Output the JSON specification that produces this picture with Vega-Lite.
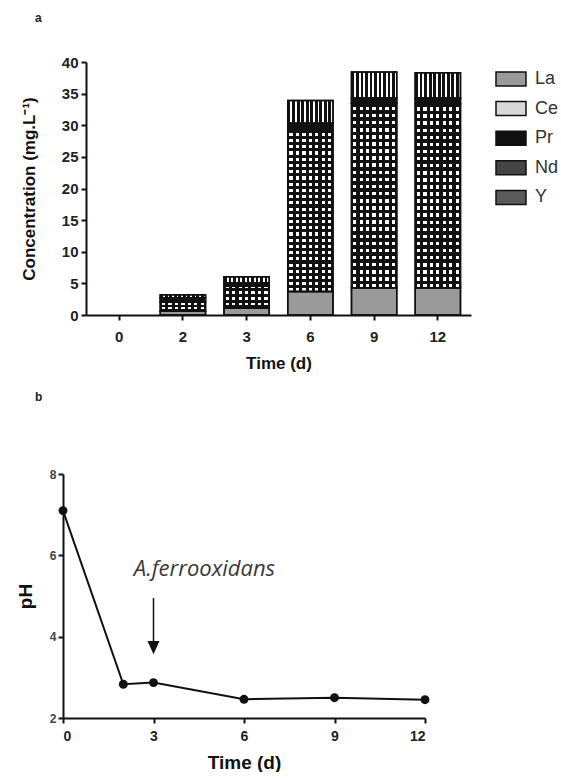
{
  "$schema": "https://vega.github.io/schema/vega-lite/v6.json",
  "padding": {"left": 16, "top": 12, "right": 0, "bottom": 0},
  "spacing": 20,
  "config": {
    "view": {"stroke": null},
    "font": "Liberation Sans",
    "axis": {
      "domainColor": "#111", "domainWidth": 2, "tickColor": "#111", "tickWidth": 2, "tickSize": 5,
      "labelFont": "Liberation Sans", "labelFontWeight": "bold", "labelColor": "#222",
      "titleFont": "Liberation Sans", "titleFontWeight": "bold", "titleColor": "#111",
      "grid": false, "labelAngle": 0
    }
  },
  "vconcat": [
    {
      "width": 385,
      "height": 253,
      "title": {"text": "a", "anchor": "start", "frame": "group", "dx": -51, "offset": 30, "fontSize": 12, "fontWeight": "bold", "font": "Liberation Sans", "color": "#222"},
      "data": {"values": [
        {"day": 2, "element": "La", "value": 0.6},
        {"day": 2, "element": "Ce", "value": 1.5},
        {"day": 2, "element": "Pr", "value": 0.6},
        {"day": 2, "element": "Nd", "value": 0.5},
        {"day": 3, "element": "La", "value": 1.1},
        {"day": 3, "element": "Ce", "value": 3.5},
        {"day": 3, "element": "Pr", "value": 0.45},
        {"day": 3, "element": "Nd", "value": 1.0},
        {"day": 6, "element": "La", "value": 3.7},
        {"day": 6, "element": "Ce", "value": 25.6},
        {"day": 6, "element": "Pr", "value": 1.0},
        {"day": 6, "element": "Nd", "value": 3.6},
        {"day": 9, "element": "La", "value": 4.3},
        {"day": 9, "element": "Ce", "value": 29.2},
        {"day": 9, "element": "Pr", "value": 0.8},
        {"day": 9, "element": "Nd", "value": 4.1},
        {"day": 12, "element": "La", "value": 4.3},
        {"day": 12, "element": "Ce", "value": 29.1},
        {"day": 12, "element": "Pr", "value": 0.9},
        {"day": 12, "element": "Nd", "value": 4.0}
      ]},
      "transform": [{"stack": "value", "groupby": ["day"], "as": ["v0", "v1"]}],
      "encoding": {
        "x": {"field": "day", "type": "ordinal",
          "scale": {"domain": [0, 2, 3, 6, 9, 12], "paddingInner": 0.29, "paddingOuter": 0.165},
          "axis": {"title": "Time (d)", "labelFontSize": 15, "titleFontSize": 17, "labelPadding": 9, "titlePadding": 11}},
        "y": {"field": "v1", "type": "quantitative",
          "scale": {"domain": [0, 40], "nice": false},
          "axis": {"title": "Concentration (mg.L⁻¹)", "values": [0, 5, 10, 15, 20, 25, 30, 35, 40], "labelFontSize": 15, "titleFontSize": 17, "labelPadding": 3, "titlePadding": 23}},
        "y2": {"field": "v0"}
      },
      "layer": [
        {
          "mark": {"type": "bar", "stroke": "#111", "strokeWidth": 1.5},
          "encoding": {
            "fill": {
              "field": "element", "type": "nominal",
              "scale": {"domain": ["La", "Ce", "Pr", "Nd", "Y"], "range": ["#9a9a9a", "#d8d8d8", "#111111", "#444444", "#5a5a5a"]},
              "condition": [
                {"test": "datum.element === 'Ce'", "value": {"gradient": "linear", "x1": 0, "y1": 0, "x2": 1, "y2": 0, "stops": [
                  {"offset": 0, "color": "#111"}, {"offset": 0.0357, "color": "#111"}, {"offset": 0.0357, "color": "#fff"}, {"offset": 0.1071, "color": "#fff"},
                  {"offset": 0.1071, "color": "#111"}, {"offset": 0.1786, "color": "#111"}, {"offset": 0.1786, "color": "#fff"}, {"offset": 0.25, "color": "#fff"},
                  {"offset": 0.25, "color": "#111"}, {"offset": 0.3214, "color": "#111"}, {"offset": 0.3214, "color": "#fff"}, {"offset": 0.3929, "color": "#fff"},
                  {"offset": 0.3929, "color": "#111"}, {"offset": 0.4643, "color": "#111"}, {"offset": 0.4643, "color": "#fff"}, {"offset": 0.5357, "color": "#fff"},
                  {"offset": 0.5357, "color": "#111"}, {"offset": 0.6071, "color": "#111"}, {"offset": 0.6071, "color": "#fff"}, {"offset": 0.6786, "color": "#fff"},
                  {"offset": 0.6786, "color": "#111"}, {"offset": 0.75, "color": "#111"}, {"offset": 0.75, "color": "#fff"}, {"offset": 0.8214, "color": "#fff"},
                  {"offset": 0.8214, "color": "#111"}, {"offset": 0.8929, "color": "#111"}, {"offset": 0.8929, "color": "#fff"}, {"offset": 0.9643, "color": "#fff"},
                  {"offset": 0.9643, "color": "#111"}, {"offset": 1, "color": "#111"}
                ]}},
                {"test": "datum.element === 'Nd'", "value": {"gradient": "linear", "x1": 0, "y1": 0, "x2": 1, "y2": 0, "stops": [
                  {"offset": 0, "color": "#111"}, {"offset": 0.06, "color": "#111"}, {"offset": 0.06, "color": "#fff"}, {"offset": 0.1, "color": "#fff"},
                  {"offset": 0.1, "color": "#111"}, {"offset": 0.16, "color": "#111"}, {"offset": 0.16, "color": "#fff"}, {"offset": 0.2, "color": "#fff"},
                  {"offset": 0.2, "color": "#111"}, {"offset": 0.26, "color": "#111"}, {"offset": 0.26, "color": "#fff"}, {"offset": 0.3, "color": "#fff"},
                  {"offset": 0.3, "color": "#111"}, {"offset": 0.36, "color": "#111"}, {"offset": 0.36, "color": "#fff"}, {"offset": 0.4, "color": "#fff"},
                  {"offset": 0.4, "color": "#111"}, {"offset": 0.46, "color": "#111"}, {"offset": 0.46, "color": "#fff"}, {"offset": 0.5, "color": "#fff"},
                  {"offset": 0.5, "color": "#111"}, {"offset": 0.56, "color": "#111"}, {"offset": 0.56, "color": "#fff"}, {"offset": 0.6, "color": "#fff"},
                  {"offset": 0.6, "color": "#111"}, {"offset": 0.66, "color": "#111"}, {"offset": 0.66, "color": "#fff"}, {"offset": 0.7, "color": "#fff"},
                  {"offset": 0.7, "color": "#111"}, {"offset": 0.76, "color": "#111"}, {"offset": 0.76, "color": "#fff"}, {"offset": 0.8, "color": "#fff"},
                  {"offset": 0.8, "color": "#111"}, {"offset": 0.86, "color": "#111"}, {"offset": 0.86, "color": "#fff"}, {"offset": 0.9, "color": "#fff"},
                  {"offset": 0.9, "color": "#111"}, {"offset": 0.96, "color": "#111"}, {"offset": 0.96, "color": "#fff"}, {"offset": 1, "color": "#fff"}
                ]}}
              ],
              "legend": {
                "title": null, "orient": "none", "legendX": 414, "legendY": 6,
                "symbolType": "M-1.5,-0.7H1.5V0.7H-1.5Z", "symbolSize": 400,
                "symbolStrokeColor": "#111", "symbolStrokeWidth": 1.5, "symbolOpacity": 1,
                "labelFont": "Liberation Sans", "labelFontSize": 18, "labelColor": "#333", "labelOffset": 13,
                "rowPadding": 8.6
              }
            }
          }
        },
        {
          "mark": {"type": "bar", "stroke": "#111", "strokeWidth": 1.5},
          "encoding": {
            "fill": {
              "condition": {"test": "datum.element === 'Ce'", "value": {"gradient": "linear", "x1": 0, "y1": 0, "x2": 0, "y2": 1, "stops": [
                {"offset": 0, "color": "#111"}, {"offset": 0.0192, "color": "#111"}, {"offset": 0.0192, "color": "rgba(0,0,0,0)"}, {"offset": 0.0385, "color": "rgba(0,0,0,0)"},
                {"offset": 0.0385, "color": "#111"}, {"offset": 0.0577, "color": "#111"}, {"offset": 0.0577, "color": "rgba(0,0,0,0)"}, {"offset": 0.0769, "color": "rgba(0,0,0,0)"},
                {"offset": 0.0769, "color": "#111"}, {"offset": 0.0962, "color": "#111"}, {"offset": 0.0962, "color": "rgba(0,0,0,0)"}, {"offset": 0.1154, "color": "rgba(0,0,0,0)"},
                {"offset": 0.1154, "color": "#111"}, {"offset": 0.1346, "color": "#111"}, {"offset": 0.1346, "color": "rgba(0,0,0,0)"}, {"offset": 0.1538, "color": "rgba(0,0,0,0)"},
                {"offset": 0.1538, "color": "#111"}, {"offset": 0.1731, "color": "#111"}, {"offset": 0.1731, "color": "rgba(0,0,0,0)"}, {"offset": 0.1923, "color": "rgba(0,0,0,0)"},
                {"offset": 0.1923, "color": "#111"}, {"offset": 0.2115, "color": "#111"}, {"offset": 0.2115, "color": "rgba(0,0,0,0)"}, {"offset": 0.2308, "color": "rgba(0,0,0,0)"},
                {"offset": 0.2308, "color": "#111"}, {"offset": 0.25, "color": "#111"}, {"offset": 0.25, "color": "rgba(0,0,0,0)"}, {"offset": 0.2692, "color": "rgba(0,0,0,0)"},
                {"offset": 0.2692, "color": "#111"}, {"offset": 0.2885, "color": "#111"}, {"offset": 0.2885, "color": "rgba(0,0,0,0)"}, {"offset": 0.3077, "color": "rgba(0,0,0,0)"},
                {"offset": 0.3077, "color": "#111"}, {"offset": 0.3269, "color": "#111"}, {"offset": 0.3269, "color": "rgba(0,0,0,0)"}, {"offset": 0.3462, "color": "rgba(0,0,0,0)"},
                {"offset": 0.3462, "color": "#111"}, {"offset": 0.3654, "color": "#111"}, {"offset": 0.3654, "color": "rgba(0,0,0,0)"}, {"offset": 0.3846, "color": "rgba(0,0,0,0)"},
                {"offset": 0.3846, "color": "#111"}, {"offset": 0.4038, "color": "#111"}, {"offset": 0.4038, "color": "rgba(0,0,0,0)"}, {"offset": 0.4231, "color": "rgba(0,0,0,0)"},
                {"offset": 0.4231, "color": "#111"}, {"offset": 0.4423, "color": "#111"}, {"offset": 0.4423, "color": "rgba(0,0,0,0)"}, {"offset": 0.4615, "color": "rgba(0,0,0,0)"},
                {"offset": 0.4615, "color": "#111"}, {"offset": 0.4808, "color": "#111"}, {"offset": 0.4808, "color": "rgba(0,0,0,0)"}, {"offset": 0.5, "color": "rgba(0,0,0,0)"},
                {"offset": 0.5, "color": "#111"}, {"offset": 0.5192, "color": "#111"}, {"offset": 0.5192, "color": "rgba(0,0,0,0)"}, {"offset": 0.5385, "color": "rgba(0,0,0,0)"},
                {"offset": 0.5385, "color": "#111"}, {"offset": 0.5577, "color": "#111"}, {"offset": 0.5577, "color": "rgba(0,0,0,0)"}, {"offset": 0.5769, "color": "rgba(0,0,0,0)"},
                {"offset": 0.5769, "color": "#111"}, {"offset": 0.5962, "color": "#111"}, {"offset": 0.5962, "color": "rgba(0,0,0,0)"}, {"offset": 0.6154, "color": "rgba(0,0,0,0)"},
                {"offset": 0.6154, "color": "#111"}, {"offset": 0.6346, "color": "#111"}, {"offset": 0.6346, "color": "rgba(0,0,0,0)"}, {"offset": 0.6538, "color": "rgba(0,0,0,0)"},
                {"offset": 0.6538, "color": "#111"}, {"offset": 0.6731, "color": "#111"}, {"offset": 0.6731, "color": "rgba(0,0,0,0)"}, {"offset": 0.6923, "color": "rgba(0,0,0,0)"},
                {"offset": 0.6923, "color": "#111"}, {"offset": 0.7115, "color": "#111"}, {"offset": 0.7115, "color": "rgba(0,0,0,0)"}, {"offset": 0.7308, "color": "rgba(0,0,0,0)"},
                {"offset": 0.7308, "color": "#111"}, {"offset": 0.75, "color": "#111"}, {"offset": 0.75, "color": "rgba(0,0,0,0)"}, {"offset": 0.7692, "color": "rgba(0,0,0,0)"},
                {"offset": 0.7692, "color": "#111"}, {"offset": 0.7885, "color": "#111"}, {"offset": 0.7885, "color": "rgba(0,0,0,0)"}, {"offset": 0.8077, "color": "rgba(0,0,0,0)"},
                {"offset": 0.8077, "color": "#111"}, {"offset": 0.8269, "color": "#111"}, {"offset": 0.8269, "color": "rgba(0,0,0,0)"}, {"offset": 0.8462, "color": "rgba(0,0,0,0)"},
                {"offset": 0.8462, "color": "#111"}, {"offset": 0.8654, "color": "#111"}, {"offset": 0.8654, "color": "rgba(0,0,0,0)"}, {"offset": 0.8846, "color": "rgba(0,0,0,0)"},
                {"offset": 0.8846, "color": "#111"}, {"offset": 0.9038, "color": "#111"}, {"offset": 0.9038, "color": "rgba(0,0,0,0)"}, {"offset": 0.9231, "color": "rgba(0,0,0,0)"},
                {"offset": 0.9231, "color": "#111"}, {"offset": 0.9423, "color": "#111"}, {"offset": 0.9423, "color": "rgba(0,0,0,0)"}, {"offset": 0.9615, "color": "rgba(0,0,0,0)"},
                {"offset": 0.9615, "color": "#111"}, {"offset": 0.9808, "color": "#111"}, {"offset": 0.9808, "color": "rgba(0,0,0,0)"}, {"offset": 1, "color": "rgba(0,0,0,0)"}
              ]}},
              "value": "transparent"
            }
          }
        }
      ]
    },
    {
      "width": 362,
      "height": 244,
      "title": {"text": "b", "anchor": "start", "frame": "group", "dx": -51, "offset": 64, "fontSize": 12, "fontWeight": "bold", "font": "Liberation Sans", "color": "#222"},
      "encoding": {
        "x": {"field": "day", "type": "quantitative",
          "scale": {"domain": [0, 12], "nice": false, "range": [-23, 339]},
          "axis": {"title": "Time (d)", "values": [0, 3, 6, 9, 12], "labelFontSize": 14, "titleFontSize": 19, "labelPadding": 6, "titlePadding": 10}},
        "y": {"field": "pH", "type": "quantitative",
          "scale": {"domain": [2, 8], "nice": false, "zero": false},
          "axis": {"title": "pH", "values": [2, 4, 6, 8], "offset": 23, "labelFontSize": 12, "labelColor": "#444", "titleFontSize": 19, "labelPadding": 2, "titlePadding": 14}}
      },
      "layer": [
        {
          "data": {"values": [
            {"day": 0, "pH": 7.1},
            {"day": 2, "pH": 2.83},
            {"day": 3, "pH": 2.87},
            {"day": 6, "pH": 2.46},
            {"day": 9, "pH": 2.5},
            {"day": 12, "pH": 2.45}
          ]},
          "layer": [
            {"mark": {"type": "line", "color": "#111", "strokeWidth": 2}},
            {"mark": {"type": "point", "filled": true, "color": "#111", "size": 80, "opacity": 1}}
          ]
        },
        {
          "data": {"values": [{"day": 3, "pH": 4.95, "pH2": 3.84}]},
          "mark": {"type": "rule", "color": "#111", "strokeWidth": 1.5},
          "encoding": {"y2": {"field": "pH2"}}
        },
        {
          "data": {"values": [{"day": 3, "pH": 3.73}]},
          "mark": {"type": "point", "shape": "M-1,-1.1L1,-1.1L0,1.1Z", "filled": true, "size": 144, "color": "#111", "opacity": 1}
        },
        {
          "data": {"values": [{"day": 4.69, "pH": 5.49, "label": "A.ferrooxidans"}]},
          "mark": {"type": "text", "font": "Open Sans", "fontStyle": "italic", "fontSize": 22, "color": "#3a3a3a", "baseline": "alphabetic", "align": "center"},
          "encoding": {"text": {"field": "label"}}
        }
      ]
    }
  ]
}
